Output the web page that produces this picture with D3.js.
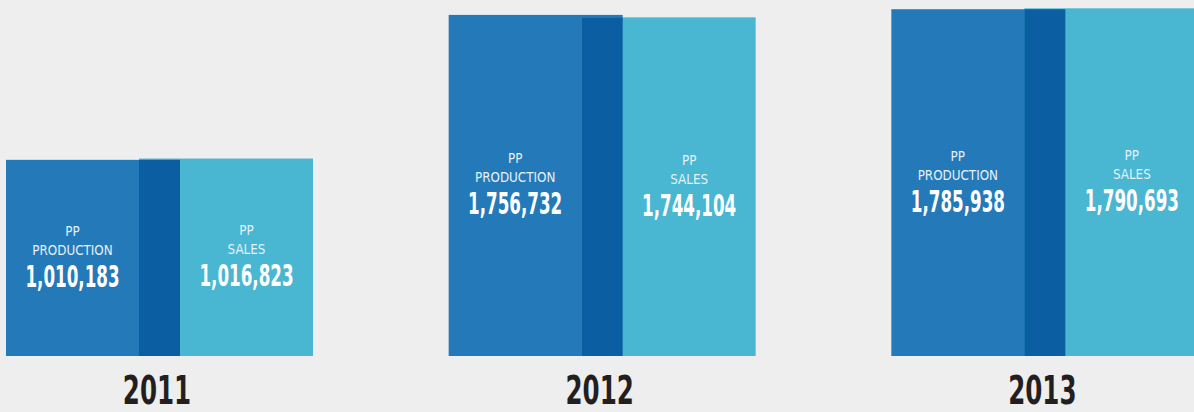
<!DOCTYPE html>
<html>
<head>
<meta charset="utf-8">
<script src="https://cdn.jsdelivr.net/npm/d3@7"></script>
<style>
  html, body { margin: 0; padding: 0; background: #eeeeee; }
  svg { display: block; }
</style>
</head>
<body>
<div id="chart"></div>
<script>
const WIDTH = 1194;
const HEIGHT = 412;
const BAR_WIDTH = 174;
const SALES_OFFSET = 133;
const BASELINE = 356;
const FONT = "'Liberation Sans Narrow', 'DejaVu Sans Condensed', sans-serif";

const years = ["2011", "2012", "2013"];
const production = [1010183, 1756732, 1785938];
const sales = [1016823, 1744104, 1790693];

const COLOR_PRODUCTION = "#2479b9";
const COLOR_SALES = "#49b6d2";
const COLOR_OVERLAP = "#0b5ea2";

const data = years.map((year, i) => ({
  year,
  production: production[i],
  sales: sales[i],
}));

const x = d3.scaleBand().domain(years).range([6, 1334]).paddingInner(0);
const y = d3.scaleLinear().domain([0, 1800000]).range([BASELINE, 6.5]);
const fmt = d3.format(",");

const svg = d3
  .select("#chart")
  .append("svg")
  .attr("width", WIDTH)
  .attr("height", HEIGHT)
  .attr("viewBox", [0, 0, WIDTH, HEIGHT])
  .style("font-family", FONT);

svg.append("rect").attr("width", WIDTH).attr("height", HEIGHT).attr("fill", "#eeeeee");

const groups = svg
  .selectAll(".group")
  .data(data)
  .join("g")
  .attr("class", "group")
  .attr("transform", (d) => `translate(${x(d.year)},0)`);

// production bar
groups
  .append("rect")
  .attr("x", 0)
  .attr("y", (d) => y(d.production))
  .attr("width", BAR_WIDTH)
  .attr("height", (d) => BASELINE - y(d.production))
  .attr("fill", COLOR_PRODUCTION);

// sales bar
groups
  .append("rect")
  .attr("x", SALES_OFFSET)
  .attr("y", (d) => y(d.sales))
  .attr("width", BAR_WIDTH)
  .attr("height", (d) => BASELINE - y(d.sales))
  .attr("fill", COLOR_SALES);

// overlap of the two
groups
  .append("rect")
  .attr("x", SALES_OFFSET)
  .attr("y", (d) => y(Math.min(d.production, d.sales)))
  .attr("width", BAR_WIDTH - SALES_OFFSET)
  .attr("height", (d) => BASELINE - y(Math.min(d.production, d.sales)))
  .attr("fill", COLOR_OVERLAP);

function addLabel(sel, key, second, cx) {
  const g = sel
    .append("g")
    .attr("transform", (d) => `translate(${cx},${(y(d[key]) + BASELINE) / 2})`)
    .attr("text-anchor", "middle");
  g.append("text")
    .attr("y", -22)
    .attr("fill", "#e6f1f8")
    .attr("font-size", 14)
    .attr("transform", "scale(0.95,1)")
    .text("PP");
  g.append("text")
    .attr("y", -3)
    .attr("fill", "#e6f1f8")
    .attr("font-size", 14)
    .attr("transform", "scale(0.95,1)")
    .text(second);
  g.append("text")
    .attr("y", 29)
    .attr("fill", "#ffffff")
    .attr("font-size", 30)
    .attr("font-weight", "bold")
    .attr("transform", "scale(0.62,1)")
    .text((d) => fmt(d[key]));
}

addLabel(groups, "production", "PRODUCTION", SALES_OFFSET / 2);
addLabel(groups, "sales", "SALES", BAR_WIDTH + (SALES_OFFSET) / 2);

groups
  .append("text")
  .attr("transform", "translate(151,404) scale(0.7,1)")
  .attr("text-anchor", "middle")
  .attr("font-size", 39)
  .attr("font-weight", "bold")
  .attr("fill", "#231f20")
  .text((d) => d.year);
</script>
</body>
</html>
